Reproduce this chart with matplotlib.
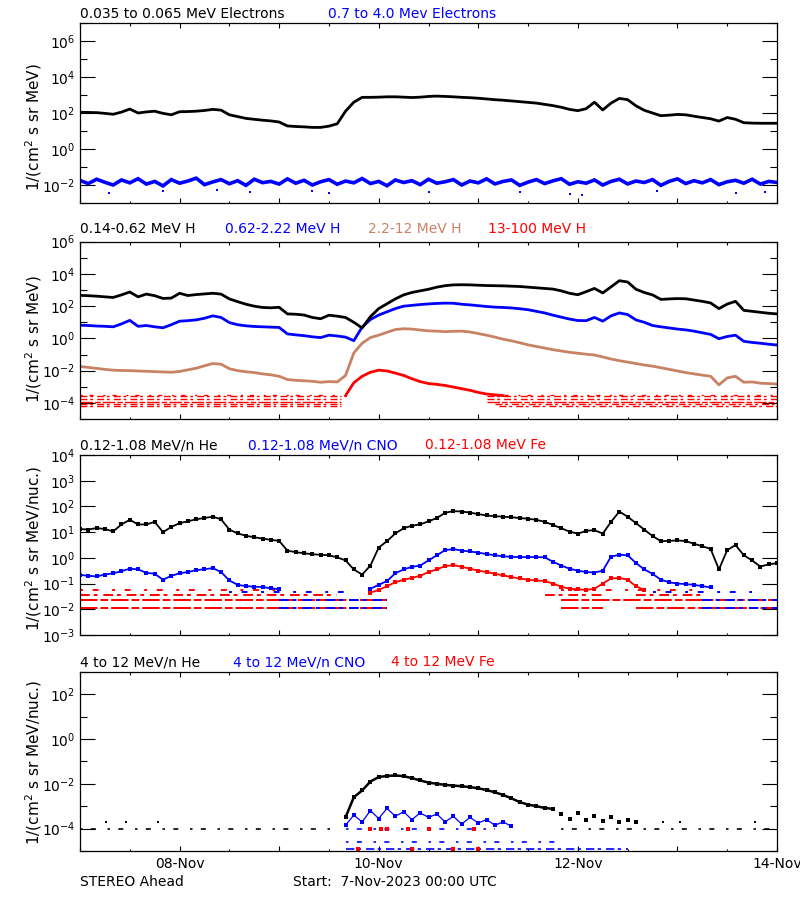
import numpy as np
import matplotlib
matplotlib.use("Agg")
import matplotlib.pyplot as plt
from matplotlib.ticker import (FixedLocator, LogFormatterSciNotation,
                               NullFormatter, NullLocator, FuncFormatter)

plt.rcParams['font.family'] = ['DejaVu Sans']

# ---------------- data (time in hours since 7-Nov-2023 00:00 UTC, values log10 flux) ----------
T = np.arange(0, 169, 2)

# Panel 1: electrons
e_lo = [2.04, 2.03, 2.02, 1.98, 1.93, 2.05, 2.22, 2.00, 2.06, 2.10,
        1.98, 1.90, 2.07, 2.08, 2.10, 2.14, 2.20, 2.16, 1.90, 1.80,
        1.70, 1.65, 1.60, 1.56, 1.50, 1.28, 1.25, 1.23, 1.20, 1.20,
        1.27, 1.40, 2.10, 2.60, 2.87, 2.87, 2.88, 2.90, 2.90, 2.88,
        2.86, 2.88, 2.92, 2.94, 2.92, 2.90, 2.87, 2.85, 2.82, 2.78,
        2.74, 2.71, 2.67, 2.63, 2.59, 2.55, 2.48, 2.41, 2.32, 2.20,
        2.13, 2.24, 2.60, 2.17, 2.55, 2.81, 2.74, 2.40, 2.15, 2.00,
        1.85, 1.88, 1.92, 1.90, 1.82, 1.75, 1.68, 1.55, 1.75, 1.65,
        1.46, 1.44, 1.43, 1.43, 1.43]
e_hi = [-1.75, -1.92, -1.68, -1.85, -2.00, -1.72, -1.88, -1.65, -1.95, -1.80,
        -2.05, -1.70, -1.90, -1.78, -1.62, -1.98, -1.83, -1.70, -1.93, -1.76,
        -2.02, -1.68, -1.87, -1.80, -1.95, -1.66, -1.90, -1.74, -2.00, -1.82,
        -1.70, -1.96, -1.78, -1.88, -1.64, -1.92, -1.80, -2.04, -1.72, -1.86,
        -1.76, -1.98, -1.68, -1.90, -1.82, -1.70, -2.00, -1.78, -1.88, -1.66,
        -1.94, -1.80, -1.72, -2.02, -1.84, -1.70, -1.92, -1.77, -1.65, -1.96,
        -1.82, -1.90, -1.72, -2.00, -1.80, -1.68, -1.94, -1.78, -1.86, -1.70,
        -2.02, -1.80, -1.66, -1.92, -1.76, -1.88, -1.70, -1.98, -1.82, -1.74,
        -1.90, -1.68, -1.95, -1.80, -1.86]
e_hi_out_t = [7, 20, 33, 41, 56, 60, 84, 106, 118, 121, 139, 158, 165]
e_hi_out_v = [-2.45, -2.35, -2.30, -2.40, -2.35, -2.45, -2.40, -2.40, -2.50, -2.55, -2.35, -2.45, -2.40]

# Panel 2: protons
h_lo = [2.67, 2.65, 2.62, 2.58, 2.54, 2.70, 2.88, 2.58, 2.75, 2.65,
        2.48, 2.50, 2.80, 2.66, 2.72, 2.76, 2.80, 2.75, 2.45, 2.28,
        2.12, 2.00, 1.92, 1.90, 1.93, 1.52, 1.50, 1.45, 1.30, 1.22,
        1.44, 1.38, 1.30, 1.00, 0.65, 1.35, 1.85, 2.15, 2.45, 2.70,
        2.85, 2.95, 3.05, 3.18, 3.27, 3.32, 3.33, 3.32, 3.30, 3.28,
        3.27, 3.26, 3.24, 3.22, 3.18, 3.14, 3.10, 3.06, 2.95, 2.80,
        2.71, 2.90, 3.10, 2.82, 3.20, 3.58, 3.50, 3.05, 2.85, 2.70,
        2.42, 2.45, 2.47, 2.46, 2.38, 2.30, 2.20, 1.85, 2.13, 2.30,
        1.74, 1.68, 1.62, 1.56, 1.52]
h_mid = [0.82, 0.80, 0.77, 0.75, 0.72, 0.90, 1.12, 0.75, 0.80, 0.72,
         0.66, 0.85, 1.07, 1.10, 1.15, 1.25, 1.40, 1.30, 0.98, 0.85,
         0.78, 0.74, 0.72, 0.70, 0.68, 0.28, 0.22, 0.17, 0.10, 0.05,
         0.20, 0.15, 0.08, -0.14, 0.70, 1.17, 1.45, 1.65, 1.85, 2.00,
         2.05, 2.10, 2.14, 2.17, 2.19, 2.18, 2.12, 2.08, 2.03, 1.98,
         1.94, 1.92, 1.89, 1.84, 1.78, 1.68, 1.58, 1.44, 1.32, 1.20,
         1.11, 1.10, 1.30, 1.07, 1.40, 1.58, 1.48, 1.15, 1.00, 0.80,
         0.72, 0.65, 0.58, 0.53, 0.45, 0.35, 0.25, -0.02, 0.12, 0.20,
         -0.18, -0.25, -0.30, -0.36, -0.41]
h_hi = [-1.74, -1.80, -1.86, -1.92, -1.97, -1.99, -2.00, -2.02, -2.04, -2.06,
        -2.08, -2.10, -2.05, -1.95, -1.85, -1.70, -1.56, -1.60, -1.88, -2.00,
        -2.07, -2.12, -2.20, -2.26, -2.35, -2.55, -2.60, -2.63, -2.66, -2.72,
        -2.68, -2.70, -2.30, -0.90, -0.30, 0.05, 0.20, 0.38, 0.55, 0.60,
        0.58, 0.52, 0.47, 0.45, 0.42, 0.44, 0.45, 0.40, 0.30, 0.20,
        0.08, -0.05, -0.15, -0.27, -0.40, -0.50, -0.60, -0.70, -0.78, -0.86,
        -0.92, -0.98, -1.03, -1.15, -1.28, -1.38, -1.47, -1.56, -1.65, -1.72,
        -1.82, -1.92, -2.02, -2.12, -2.20, -2.28, -2.35, -2.88, -2.45, -2.35,
        -2.72, -2.70, -2.78, -2.80, -2.83]
h13_t = np.arange(64, 103, 2)
h13 = [-3.55, -2.75, -2.35, -2.10, -1.97, -2.02, -2.15, -2.30, -2.50, -2.68,
       -2.80, -2.85, -2.92, -3.02, -3.12, -3.22, -3.35, -3.45, -3.50, -3.55]
h13_bg_levels = [3.2e-4, 2.5e-4, 1.7e-4, 1.2e-4, 8.7e-5, 6.2e-5]
h13_bg_spans = [[(0, 63), (100, 168)], [(0, 63), (98, 168)], [(0, 63), (98, 168)],
                [(0, 63), (98, 168)], [(0, 63), (100, 168)], [(0, 63), (101, 168)]]

# Panel 3: low-energy ions
he_lo = [1.12, 1.10, 1.16, 1.12, 1.03, 1.30, 1.48, 1.30, 1.30, 1.40,
         1.00, 1.20, 1.35, 1.42, 1.50, 1.55, 1.60, 1.50, 1.10, 0.95,
         0.86, 0.80, 0.75, 0.70, 0.66, 0.28, 0.22, 0.18, 0.14, 0.12,
         0.10, 0.02, -0.10, -0.45, -0.65, -0.30, 0.40, 0.65, 0.95, 1.15,
         1.25, 1.30, 1.42, 1.55, 1.75, 1.82, 1.80, 1.76, 1.70, 1.65,
         1.62, 1.60, 1.58, 1.55, 1.52, 1.48, 1.40, 1.28, 1.15, 1.02,
         0.94, 1.05, 1.08, 0.94, 1.40, 1.80, 1.60, 1.35, 1.10, 0.85,
         0.65, 0.66, 0.68, 0.65, 0.55, 0.45, 0.35, -0.45, 0.30, 0.50,
         0.10, -0.10, -0.34, -0.25, -0.21]
cno_lo_ta = np.arange(0, 49, 2)
cno_lo_a = [-0.66, -0.70, -0.72, -0.65, -0.60, -0.52, -0.42, -0.45, -0.58, -0.62,
            -0.85, -0.70, -0.60, -0.55, -0.48, -0.44, -0.40, -0.55, -0.88, -1.05,
            -1.10, -1.12, -1.14, -1.18, -1.22]
cno_lo_tb = np.arange(70, 153, 2)
cno_lo_b = [-1.20, -1.05, -0.90, -0.60, -0.45, -0.35, -0.30, -0.10, 0.10, 0.30,
            0.34, 0.28, 0.25, 0.20, 0.15, 0.10, 0.06, 0.04, 0.03, 0.03,
            0.03, 0.02, -0.15, -0.30, -0.42, -0.50, -0.55, -0.57, -0.50, 0.05,
            0.12, 0.10, -0.20, -0.45, -0.62, -0.85, -0.95, -1.00, -1.02, -1.05,
            -1.10, -1.15]
fe_lo_t = np.arange(70, 137, 2)
fe_lo = [-1.35, -1.25, -1.10, -0.95, -0.85, -0.78, -0.70, -0.55, -0.45, -0.32,
         -0.28, -0.35, -0.42, -0.50, -0.55, -0.62, -0.68, -0.75, -0.80, -0.85,
         -0.88, -0.90, -1.00, -1.12, -1.20, -1.22, -1.25, -1.20, -1.00, -0.80,
         -0.78, -0.85, -1.10, -1.25]
fe_bg_levels = [0.057, 0.036, 0.023, 0.011]
fe_bg_spans = [[(0, 48), (116, 150)], [(0, 62), (112, 126), (134, 150)],
               [(0, 74), (116, 168)], [(0, 74), (116, 126), (134, 168)]]
cno_bg_levels = [0.045, 0.023, 0.011]
cno_bg_spans = [[(36, 66), (138, 162)], [(48, 74), (150, 168)], [(48, 74), (150, 168)]]

# Panel 4: high-energy ions
he_hi_t = np.arange(64, 115, 2)
he_hi = [-3.50, -2.60, -2.30, -1.90, -1.70, -1.65, -1.63, -1.66, -1.75, -1.85,
         -1.95, -2.00, -2.05, -2.08, -2.11, -2.15, -2.20, -2.28, -2.38, -2.50,
         -2.65, -2.82, -2.93, -3.00, -3.08, -3.12]
he_hi_tail_t = np.arange(116, 135, 2)
he_hi_tail = [-3.35, -3.55, -3.30, -3.62, -3.45, -3.68, -3.50, -3.70, -3.60, -3.70]
he_hi_bg_level = 1e-4
he_hi_bg_spans = [(0, 62), (116, 168)]
he_hi_out_t = [6.3, 11.2, 18.9, 140.5, 144.5, 162.7]
he_hi_out_v = [2e-4, 2e-4, 2e-4, 2e-4, 2e-4, 2e-4]
cno_hi_t = np.arange(64, 105, 2)
cno_hi = [-3.85, -3.40, -3.70, -3.20, -3.55, -3.10, -3.45, -3.25, -3.60, -3.30,
          -3.50, -3.35, -3.70, -3.45, -3.80, -3.50, -3.75, -3.60, -3.85, -3.70, -3.90]
cno_hi_bg_levels = [1e-4, 2.5e-5, 1.2e-5]
cno_hi_bg_spans = [[(64, 100)], [(64, 116)], [(64, 132)]]
fe_hi_t = [70, 72.5, 74, 79, 84, 95, 67, 80, 90, 96]
fe_hi_v = [1e-4, 1e-4, 1e-4, 1e-4, 1e-4, 1e-4, 1.2e-5, 1.2e-5, 1.2e-5, 1.2e-5]

# ---------------- figure ----------------
BLACK, BLUE, BROWN, RED = '#000000', '#0000FF', '#C88264', '#FF0000'
DASH = {'sparse': (0, (1.5, 5, 3, 7)), 'dash': (0, (5, 2, 2, 3)),
        'dense': (0, (9, 1.5, 4, 1.5))}

fig = plt.figure(figsize=(8, 9), dpi=100)
W, H = 800.0, 900.0


def add_ax(top, bottom):
    return fig.add_axes([80 / W, 1 - bottom / H, 697 / W, (bottom - top) / H])


def L(v):
    return 10.0 ** np.asarray(v, dtype=float)


def style(ax, ylim, majors, minors, bottom_labels=False):
    ax.set_yscale('log')
    ax.set_xlim(0, 168)
    ax.set_ylim(*ylim)
    ax.yaxis.set_major_locator(FixedLocator(majors))
    ax.yaxis.set_major_formatter(LogFormatterSciNotation())
    if minors is None:
        ax.yaxis.set_minor_locator(NullLocator())
    else:
        ax.yaxis.set_minor_locator(FixedLocator(minors))
    ax.yaxis.set_minor_formatter(NullFormatter())
    ax.xaxis.set_major_locator(FixedLocator(np.arange(0, 169, 24)))
    ax.xaxis.set_minor_locator(FixedLocator(np.arange(12, 169, 24)))
    lab = {24: '08-Nov', 72: '10-Nov', 120: '12-Nov', 168: '14-Nov'}
    ax.xaxis.set_major_formatter(FuncFormatter(lambda x, p: lab.get(int(round(x)), '')))
    ax.tick_params(axis='x', which='major', direction='in', length=3.6, width=0.8,
                   top=True, bottom=True, labelbottom=bottom_labels, labelsize=10, pad=4.5)
    ax.tick_params(axis='x', which='minor', direction='in', length=1.8, width=0.8,
                   top=True, bottom=True)
    ax.tick_params(axis='y', which='major', direction='in', length=10.8, width=0.8,
                   left=True, right=True, labelsize=10, pad=3.5)
    ax.tick_params(axis='y', which='minor', direction='in', length=5, width=0.8,
                   left=True, right=True)
    for s in ax.spines.values():
        s.set_linewidth(0.9)


def bg(ax, level, spans, color, ls, lw=1.1):
    for a, b in spans:
        ax.plot([a, b], [level, level], color=color, lw=lw, linestyle=ls,
                solid_capstyle='butt', dash_capstyle='butt')


def title(x, y, s, color):
    fig.text(x / W, 1 - y / H, s, color=color, fontsize=10, ha='left', va='baseline')


def ylab(y, s):
    fig.text(34 / W, 1 - y / H, s, rotation=90, fontsize=11, ha='center', va='center')


# Panel 1
ax1 = add_ax(23, 203)
style(ax1, (1e-3, 1e7), 10.0 ** np.arange(-2, 7, 2), 10.0 ** np.arange(-3, 8, 2))
ax1.plot(T, L(e_hi), color=BLUE, lw=2.6, solid_joinstyle='miter')
ax1.plot(e_hi_out_t, L(e_hi_out_v), color=BLUE, ls='none', marker='s', ms=2, mew=0)
ax1.plot(T, L(e_lo), color=BLACK, lw=2.0)
title(80, 18, '0.035 to 0.065 MeV Electrons', BLACK)
title(328, 18, '0.7 to 4.0 Mev Electrons', BLUE)
ylab(127, '1/(cm$^2$ s sr MeV)')

# Panel 2
ax2 = add_ax(241.7, 419)
style(ax2, (1e-5, 1e6), 10.0 ** np.arange(-4, 7, 2), 10.0 ** np.arange(-5, 6, 2))
h13_styles = ['sparse', 'dash', 'dash', 'dense', 'dash', 'dash']
for lev, spans, st in zip(h13_bg_levels, h13_bg_spans, h13_styles):
    bg(ax2, lev, spans, RED, DASH[st], lw=1.0)
ax2.plot(h13_t, L(h13), color=RED, lw=2.0, marker='s', ms=2, mew=0)
ax2.plot(T, L(h_hi), color=BROWN, lw=2.0)
ax2.plot(T, L(h_mid), color=BLUE, lw=2.0)
ax2.plot(T, L(h_lo), color=BLACK, lw=2.0)
title(80, 233.5, '0.14-0.62 MeV H', BLACK)
title(225, 233.5, '0.62-2.22 MeV H', BLUE)
title(368, 233.5, '2.2-12 MeV H', BROWN)
title(488, 233.5, '13-100 MeV H', RED)
ylab(339, '1/(cm$^2$ s sr MeV)')

# Panel 3
ax3 = add_ax(455, 635)
style(ax3, (1e-3, 1e4), 10.0 ** np.arange(-3, 5, 1), None)
fe_styles = ['sparse', 'dash', 'dense', 'dense']
for lev, spans, st in zip(fe_bg_levels, fe_bg_spans, fe_styles):
    bg(ax3, lev, spans, RED, DASH[st], lw=1.4)
cno_styles = ['sparse', 'dash', 'dash']
for lev, spans, st in zip(cno_bg_levels, cno_bg_spans, cno_styles):
    bg(ax3, lev, spans, BLUE, DASH[st], lw=1.4)
ax3.plot(fe_lo_t, L(fe_lo), color=RED, lw=1.3, marker='s', ms=2.2, mew=0)
ax3.plot(cno_lo_ta, L(cno_lo_a), color=BLUE, lw=1.3, marker='s', ms=2.2, mew=0)
ax3.plot(cno_lo_tb, L(cno_lo_b), color=BLUE, lw=1.3, marker='s', ms=2.2, mew=0)
ax3.plot(T, L(he_lo), color=BLACK, lw=1.3, marker='s', ms=2.2, mew=0)
title(80, 449, '0.12-1.08 MeV/n He', BLACK)
title(248, 449, '0.12-1.08 MeV/n CNO', BLUE)
title(425, 449, '0.12-1.08 MeV Fe', RED)
ylab(548, '1/(cm$^2$ s sr MeV/nuc.)')

# Panel 4
ax4 = add_ax(671.7, 851)
style(ax4, (1e-5, 1e3), 10.0 ** np.arange(-4, 3, 2), 10.0 ** np.arange(-5, 4, 2),
      bottom_labels=True)
bg(ax4, he_hi_bg_level, he_hi_bg_spans, BLACK, DASH['sparse'], lw=1.2)
ax4.plot(he_hi_out_t, he_hi_out_v, color=BLACK, ls='none', marker='s', ms=2, mew=0)
cno_hi_styles = ['sparse', 'sparse', 'dash']
for lev, spans, st in zip(cno_hi_bg_levels, cno_hi_bg_spans, cno_hi_styles):
    bg(ax4, lev, spans, BLUE, DASH[st], lw=1.2)
ax4.plot(cno_hi_t, L(cno_hi), color=BLUE, lw=0.9, marker='s', ms=2.4, mew=0)
ax4.plot(fe_hi_t, fe_hi_v, color=RED, ls='none', marker='s', ms=2.4, mew=0)
ax4.plot(he_hi_t, L(he_hi), color=BLACK, lw=1.8, marker='s', ms=2.2, mew=0)
ax4.plot(he_hi_tail_t, L(he_hi_tail), color=BLACK, ls='none', marker='s', ms=2.4, mew=0)
title(80, 666, '4 to 12 MeV/n He', BLACK)
title(233, 666, '4 to 12 MeV/n CNO', BLUE)
title(391, 666, '4 to 12 MeV Fe', RED)
ylab(762, '1/(cm$^2$ s sr MeV/nuc.)')

fig.text(80 / W, 1 - 886 / H, 'STEREO Ahead', fontsize=10, ha='left', va='baseline')
fig.text(293 / W, 1 - 886 / H, 'Start:  7-Nov-2023 00:00 UTC', fontsize=10,
         ha='left', va='baseline')

fig.savefig('out.png', dpi=100)
